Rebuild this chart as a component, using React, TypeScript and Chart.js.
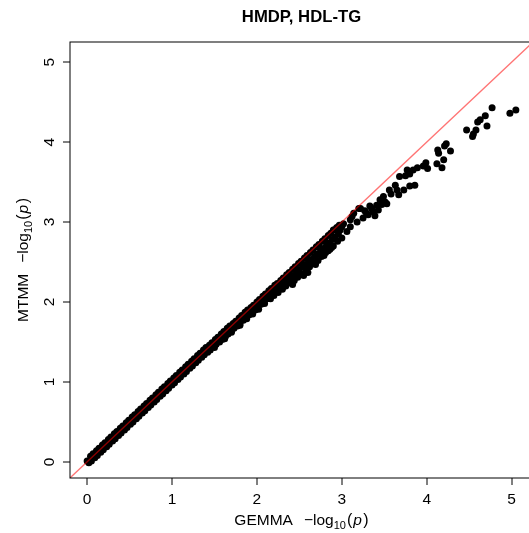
import { useEffect, useRef } from 'react';
import { Chart, registerables } from 'chart.js';

Chart.register(...registerables);

const chartTitle = 'HMDP, HDL-TG';
const xLabelName = 'GEMMA';
const yLabelName = 'MTMM';
const xTickValues = [0, 1, 2, 3, 4, 5];
const xTickLabels = ['0', '1', '2', '3', '4', '5'];
const yTickValues = [0, 1, 2, 3, 4, 5];
const yTickLabels = ['0', '1', '2', '3', '4', '5'];
const axisMin = -0.202;
const axisMax = 5.252;
const refLine = [axisMin, axisMax];

// dense band along the diagonal (upper row)
const bandAGemma = [0.00, 0.04, 0.07, 0.11, 0.14, 0.18, 0.21, 0.25, 0.28, 0.32, 0.35, 0.39, 0.42, 0.46, 0.49, 0.53, 0.56, 0.60, 0.63, 0.67, 0.70, 0.74, 0.77, 0.81, 0.84, 0.88, 0.91, 0.95, 0.98, 1.02, 1.05, 1.09, 1.12, 1.16, 1.19, 1.23, 1.26, 1.30, 1.33, 1.37, 1.40, 1.44, 1.47, 1.51, 1.54, 1.58, 1.61, 1.65, 1.68, 1.72, 1.75, 1.79, 1.82, 1.86, 1.89, 1.93, 1.96, 2.00, 2.03, 2.07, 2.10, 2.14, 2.17, 2.21, 2.24, 2.28, 2.31, 2.35, 2.38, 2.42, 2.45, 2.49, 2.52, 2.56, 2.59, 2.63, 2.66, 2.70, 2.73, 2.77, 2.80, 2.84, 2.87, 2.91, 2.94, 2.97];
const bandAMtmm = [0.01, 0.07, 0.10, 0.14, 0.17, 0.21, 0.24, 0.28, 0.31, 0.35, 0.38, 0.42, 0.45, 0.49, 0.52, 0.56, 0.59, 0.63, 0.66, 0.70, 0.73, 0.77, 0.80, 0.84, 0.87, 0.91, 0.94, 0.98, 1.01, 1.05, 1.08, 1.12, 1.15, 1.19, 1.22, 1.26, 1.29, 1.33, 1.36, 1.40, 1.43, 1.46, 1.49, 1.53, 1.56, 1.60, 1.63, 1.67, 1.70, 1.73, 1.76, 1.80, 1.83, 1.87, 1.90, 1.93, 1.96, 2.00, 2.03, 2.07, 2.10, 2.14, 2.17, 2.21, 2.23, 2.27, 2.30, 2.34, 2.37, 2.41, 2.44, 2.48, 2.51, 2.55, 2.58, 2.62, 2.65, 2.69, 2.72, 2.76, 2.79, 2.83, 2.86, 2.90, 2.93, 2.96];

// dense band (lower row)
const bandBGemma = [0.02, 0.05, 0.09, 0.12, 0.16, 0.19, 0.23, 0.26, 0.30, 0.33, 0.37, 0.40, 0.44, 0.47, 0.51, 0.54, 0.58, 0.61, 0.65, 0.68, 0.72, 0.75, 0.79, 0.82, 0.86, 0.89, 0.93, 0.96, 1.00, 1.03, 1.07, 1.10, 1.14, 1.17, 1.21, 1.24, 1.28, 1.31, 1.35, 1.38, 1.42, 1.45, 1.49, 1.52, 1.56, 1.59, 1.63, 1.66, 1.70, 1.73, 1.77, 1.80, 1.84, 1.87, 1.91, 1.94, 1.98, 2.01, 2.05, 2.08, 2.12, 2.15, 2.19, 2.22, 2.26, 2.29, 2.33, 2.36, 2.40, 2.43, 2.47, 2.50, 2.54, 2.57, 2.61, 2.64, 2.68, 2.71, 2.75, 2.78, 2.82, 2.85, 2.89, 2.92, 2.96];
const bandBMtmm = [-0.01, 0.01, 0.05, 0.08, 0.12, 0.15, 0.19, 0.22, 0.26, 0.29, 0.33, 0.36, 0.40, 0.43, 0.47, 0.50, 0.54, 0.57, 0.61, 0.64, 0.68, 0.71, 0.75, 0.78, 0.82, 0.85, 0.89, 0.92, 0.96, 0.99, 1.03, 1.06, 1.10, 1.13, 1.17, 1.20, 1.24, 1.27, 1.31, 1.34, 1.37, 1.40, 1.44, 1.47, 1.50, 1.53, 1.57, 1.60, 1.64, 1.67, 1.70, 1.73, 1.77, 1.80, 1.84, 1.87, 1.90, 1.93, 1.97, 2.00, 2.04, 2.07, 2.10, 2.13, 2.17, 2.20, 2.24, 2.27, 2.30, 2.33, 2.37, 2.40, 2.44, 2.47, 2.50, 2.53, 2.57, 2.60, 2.64, 2.67, 2.71, 2.74, 2.78, 2.81, 2.85];

// spread below the diagonal
const bandCGemma = [1.50, 1.62, 1.70, 1.80, 1.88, 1.95, 2.02, 2.09, 2.16, 2.20, 2.25, 2.30, 2.34, 2.39, 2.44, 2.48, 2.53, 2.58, 2.62, 2.67, 2.72, 2.76, 2.81, 2.86, 2.90, 2.95, 3.00, 2.42, 2.55, 2.69, 2.79, 2.88, 2.60, 2.84];
const bandCMtmm = [1.43, 1.54, 1.62, 1.71, 1.79, 1.85, 1.91, 1.98, 2.04, 2.08, 2.12, 2.16, 2.20, 2.24, 2.27, 2.31, 2.35, 2.40, 2.44, 2.49, 2.52, 2.57, 2.62, 2.66, 2.70, 2.76, 2.80, 2.22, 2.33, 2.47, 2.58, 2.68, 2.37, 2.64];

// sparse tail
const tailGemma = [4.77, 5.05, 4.98, 4.69, 4.63, 4.60, 4.71, 4.47, 4.58, 4.55, 4.54, 4.23, 4.21, 4.28, 4.13, 4.14, 4.20, 4.12, 4.18, 3.99, 4.01, 3.96, 3.89, 3.84, 3.77, 3.80, 3.75, 3.68, 3.86, 3.80, 3.63, 3.56, 3.65, 3.73, 3.67, 3.49, 3.45, 3.51, 3.53, 3.41, 3.43, 3.35, 3.22, 3.29, 3.37, 3.31, 3.39, 3.25, 3.12, 3.18, 3.02, 3.10, 2.98, 3.06, 2.90, 3.10, 3.14, 3.20, 3.00, 3.47, 3.33, 3.27, 3.58];
const tailMtmm = [4.43, 4.40, 4.36, 4.33, 4.28, 4.25, 4.20, 4.15, 4.15, 4.10, 4.07, 3.98, 3.95, 3.89, 3.90, 3.86, 3.78, 3.73, 3.68, 3.74, 3.67, 3.70, 3.68, 3.65, 3.65, 3.60, 3.58, 3.57, 3.46, 3.45, 3.46, 3.40, 3.40, 3.40, 3.34, 3.32, 3.28, 3.25, 3.23, 3.21, 3.15, 3.17, 3.17, 3.11, 3.13, 3.09, 3.08, 3.05, 3.07, 3.00, 2.98, 2.94, 2.90, 2.88, 2.90, 3.03, 3.11, 3.17, 2.94, 3.22, 3.20, 3.14, 3.35];

const FONT = '"Liberation Sans", Arial, Helvetica, sans-serif';

function pairs(xs: number[], ys: number[]) {
  return xs.map((x, i) => ({ x, y: ys[i] }));
}

type Part = { t: string; font: string; dy?: number; gap?: number };

function mathParts(name: string): Part[] {
  return [
    { t: name, font: `15.5px ${FONT}` },
    { t: '\u2212log', font: `15.5px ${FONT}`, gap: 11 },
    { t: '10', font: `11px ${FONT}`, dy: 3.5 },
    { t: '(', font: `16px ${FONT}`, gap: 1 },
    { t: 'p', font: `italic 15.5px ${FONT}`, gap: 1 },
    { t: ')', font: `16px ${FONT}`, gap: 1.5 },
  ];
}

function drawParts(ctx: CanvasRenderingContext2D, parts: Part[], cx: number, by: number) {
  const widths = parts.map((p) => {
    ctx.font = p.font;
    return ctx.measureText(p.t).width;
  });
  const total = parts.reduce((s, p, i) => s + (p.gap || 0) + widths[i], 0);
  let x = cx - total / 2;
  ctx.textAlign = 'left';
  ctx.textBaseline = 'alphabetic';
  parts.forEach((p, i) => {
    x += p.gap || 0;
    ctx.font = p.font;
    ctx.fillText(p.t, x, by + (p.dy || 0));
    x += widths[i];
  });
}

const framePlugin = {
  id: 'rFrame',
  afterDraw(chart: any) {
    const { ctx, chartArea: a, scales } = chart;
    const xs = scales.x;
    const ys = scales.y;
    ctx.save();
    ctx.strokeStyle = '#000';
    ctx.lineWidth = 1;
    ctx.strokeRect(Math.round(a.left), Math.round(a.top), Math.round(a.right - a.left), Math.round(a.bottom - a.top));
    ctx.beginPath();
    xTickValues.forEach((v) => {
      const p = Math.round(xs.getPixelForValue(v));
      ctx.moveTo(p, a.bottom);
      ctx.lineTo(p, a.bottom + 7);
    });
    yTickValues.forEach((v) => {
      const p = Math.round(ys.getPixelForValue(v));
      ctx.moveTo(a.left, p);
      ctx.lineTo(a.left - 7, p);
    });
    ctx.stroke();

    ctx.fillStyle = '#000';
    ctx.font = `15.5px ${FONT}`;
    ctx.textAlign = 'center';
    ctx.textBaseline = 'alphabetic';
    xTickValues.forEach((v, i) => {
      ctx.fillText(xTickLabels[i], xs.getPixelForValue(v), a.bottom + 25.5);
    });
    yTickValues.forEach((v, i) => {
      ctx.save();
      ctx.translate(a.left - 16, ys.getPixelForValue(v));
      ctx.rotate(-Math.PI / 2);
      ctx.textAlign = 'center';
      ctx.fillText(yTickLabels[i], 0, 0);
      ctx.restore();
    });

    const cx = (a.left + a.right) / 2;
    const cy = (a.top + a.bottom) / 2;
    ctx.font = `bold 16.7px ${FONT}`;
    ctx.textAlign = 'center';
    ctx.fillText(chartTitle, cx, 21.5);

    drawParts(ctx, mathParts(xLabelName), cx, a.bottom + 47);

    ctx.save();
    ctx.translate(a.left - 42, cy);
    ctx.rotate(-Math.PI / 2);
    drawParts(ctx, mathParts(yLabelName), 0, 0);
    ctx.restore();
    ctx.restore();
  },
};

export default function App() {
  const ref = useRef<HTMLCanvasElement | null>(null);
  useEffect(() => {
    if (!ref.current) return;
    const points = [
      ...pairs(bandAGemma, bandAMtmm),
      ...pairs(bandBGemma, bandBMtmm),
      ...pairs(bandCGemma, bandCMtmm),
      ...pairs(tailGemma, tailMtmm),
    ];
    const chart = new Chart(ref.current, {
      type: 'scatter',
      data: {
        datasets: [
          {
            data: refLine.map((v) => ({ x: v, y: v })),
            showLine: true,
            borderColor: 'rgba(255,0,0,0.55)',
            borderWidth: 1.3,
            pointRadius: 0,
            order: 0,
          },
          {
            data: points,
            backgroundColor: '#000',
            borderWidth: 0,
            pointRadius: 3.5,
            order: 1,
          },
        ],
      } as any,
      options: {
        responsive: false,
        animation: false,
        layout: { padding: { left: 70, top: 42, right: 12, bottom: 55 } },
        scales: {
          x: { type: 'linear', min: axisMin, max: axisMax, display: false },
          y: { type: 'linear', min: axisMin, max: axisMax, display: false },
        },
        plugins: { legend: { display: false }, tooltip: { enabled: false } },
        events: [],
      },
      plugins: [framePlugin],
    });
    return () => chart.destroy();
  }, []);
  return (
    <div style={{ position: 'absolute', left: 0, top: 0, width: 529, height: 533, overflow: 'hidden', background: '#fff' }}>
      <canvas ref={ref} width={545} height={533} style={{ width: 545, height: 533, display: 'block' }} />
    </div>
  );
}
